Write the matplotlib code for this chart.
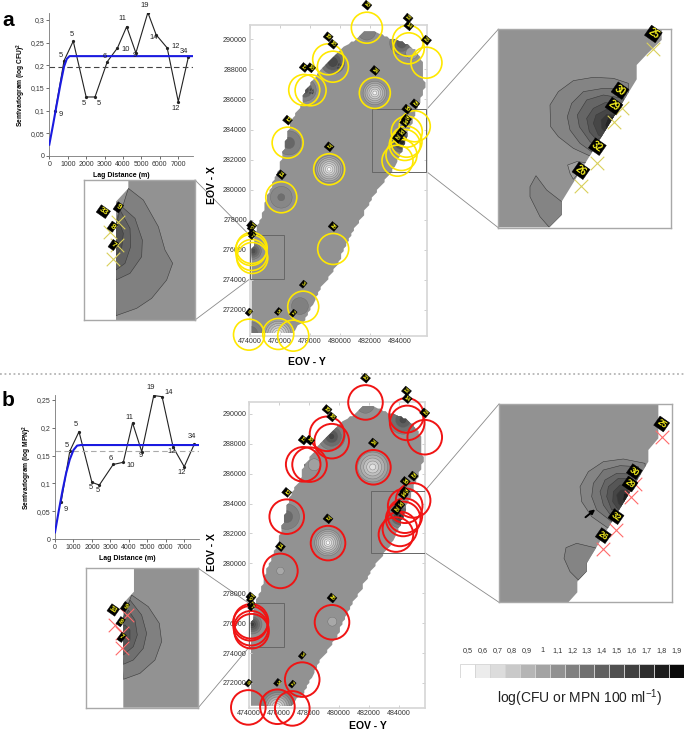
import numpy as np
import matplotlib
matplotlib.use("Agg")
import matplotlib.pyplot as plt
from matplotlib.patches import Polygon, Circle, Rectangle

plt.rcParams['font.family'] = ['Liberation Sans', 'DejaVu Sans']
plt.rcParams['mathtext.default'] = 'regular'

W, H = 685, 730

# semivariograms
lags_a = [330, 800, 1300, 2000, 2480, 3150, 3700, 4200, 4700, 5350, 5800, 6400, 7000, 7550]
gamma_a = [0.1, 0.21, 0.253, 0.13, 0.13, 0.208, 0.238, 0.285, 0.227, 0.316, 0.267, 0.238, 0.12, 0.218]
pairs_a = [9, 5, 5, 5, 5, 6, 10, 11, 9, 19, 14, 12, 12, 34]
model_x_a = [0, 200, 400, 600, 800, 950, 1100, 7800]
model_y_a = [0.025, 0.068, 0.113, 0.157, 0.197, 0.214, 0.22, 0.22]
var_a = 0.195

lags_b = [330, 800, 1300, 2000, 2400, 3150, 3700, 4200, 4700, 5350, 5800, 6400, 7000, 7550]
gamma_b = [0.066, 0.158, 0.193, 0.102, 0.097, 0.134, 0.138, 0.209, 0.157, 0.258, 0.256, 0.165, 0.13, 0.171]
pairs_b = pairs_a
model_x_b = [0, 200, 400, 600, 800, 1000, 1200, 1400, 7800]
model_y_b = [0.012, 0.05, 0.086, 0.118, 0.143, 0.16, 0.168, 0.169, 0.169]
var_b = 0.158

off_a = [(4, -3), (-2, 4), (-1, 5), (-2, -5), (3, -5), (-2, 4), (6, -1), (-3, 6), (-1, -2), (-2, 5), (-2, -2), (6, 1), (-2, -5), (-3, 4)]
off_b = [(3, -5), (-2, 4), (-2, 5), (-1, -4), (-1, -4), (-2, 4), (5, -2), (-2, 4), (-1, -3), (-2, 6), (5, 3), (-1, -3), (-2, -4), (-2, 5)]

# map outline, EOV coordinates
outline_y = [474200, 476875, 477670, 478670, 479860, 480790, 482520, 483780, 484310, 484780, 485640, 485510,
             484970, 484110, 482780, 482320, 481650, 481120, 480130, 479000, 477670, 477470, 476540, 476140,
             475350, 474880, 474350, 474200]
outline_x = [270490, 270490, 271330, 273330, 275120, 277120, 279980, 281780, 283110, 284440, 286830, 288420,
             289290, 289820, 290290, 290550, 290550, 290090, 289290, 288290, 286630, 285770, 283970, 281980,
             279980, 278520, 277120, 276000]

# sampling sites
site_y = [481790, 484530, 484578, 485753, 479219, 479531, 477625, 478050, 482320, 484976, 484445, 484425, 484312,
          484093, 483827, 476523, 479285, 476100, 479551, 474133, 474086, 474133, 474172, 477559, 473954, 475900, 476895]
site_x = [290770, 289907, 289400, 288444, 288670, 288178, 286630, 286610, 286430, 284215, 283856, 283190, 282972,
          282307, 281928, 283125, 281356, 279495, 276057, 276123, 275990, 275658, 275459, 272221, 270360, 270405, 270293]
site_id = ['20', '22', '14', '23', '19', '18', '17', '16', '24', '25', '30', '29', '31', '32', '26', '12', '27', '21',
           '28', '33', '9', '8', '7', '3', '6', '5', '2']

# contour rings: centre y, centre x, radii (m), greys
rings_a = [
    (482320, 286430, [780, 650, 520, 390, 260, 130], ['#a2a2a2', '#b0b0b0', '#bebebe', '#cdcdcd', '#dcdcdc', '#f2f2f2']),
    (479285, 281356, [900, 770, 640, 510, 380, 250, 120], ['#a0a0a0', '#acacac', '#b8b8b8', '#c6c6c6', '#d4d4d4', '#e4e4e4', '#fbfbfb']),
    (475900, 270405, [1000, 850, 700, 550, 400, 250], ['#a0a0a0', '#adadad', '#bababa', '#c8c8c8', '#d8d8d8', '#ececec']),
    (476100, 279495, [720, 235], ['#878787', '#6e6e6e']),
    (477340, 272260, [560], ['#808080']),
    (474000, 270380, [850, 550], ['#808080', '#707070']),
    (476610, 283110, [800, 380], ['#808080', '#666666']),
    (474220, 275920, [550, 420, 300, 180], ['#808080', '#6e6e6e', '#5e5e5e', '#4e4e4e']),
    (484110, 289750, [800, 550, 350], ['#808080', '#6e6e6e', '#5a5a5a']),
    (484780, 289080, [400], ['#a0a0a0']),
    (479530, 288490, [800, 550, 350], ['#707070', '#5c5c5c', '#484848']),
    (477670, 286630, [750, 480, 260], ['#808080', '#666666', '#505050']),
    (484110, 283170, [700, 500, 330, 170], ['#707070', '#555555', '#3c3c3c', '#222222']),
    (481790, 290550, [600], ['#808080']),
]
rings_b = [
    (482270, 286450, [1000, 800, 600, 400, 200], ['#a2a2a2', '#b0b0b0', '#c0c0c0', '#d0d0d0', '#e2e2e2']),
    (479275, 281385, [880, 760, 640, 510, 380, 250, 120], ['#a0a0a0', '#acacac', '#b8b8b8', '#c6c6c6', '#d4d4d4', '#e4e4e4', '#fbfbfb']),
    (475900, 270405, [1100, 950, 800, 650, 500, 350, 200], ['#808080', '#909090', '#a0a0a0', '#b2b2b2', '#c4c4c4', '#d8d8d8', '#ececec']),
    (476100, 279495, [250], ['#a8a8a8']),
    (479570, 276100, [300], ['#a8a8a8']),
    (476523, 283125, [850, 400], ['#808080', '#6a6a6a']),
    (474220, 275920, [650, 500, 380, 260, 140], ['#808080', '#6e6e6e', '#5e5e5e', '#4e4e4e', '#3e3e3e']),
    (484300, 289600, [950, 750, 500, 250], ['#808080', '#707070', '#5e5e5e', '#4a4a4a']),
    (479530, 288490, [900, 650, 420, 200], ['#808080', '#6c6c6c', '#585858', '#444444']),
    (478360, 286600, [400], ['#a0a0a0']),
    (477600, 286600, [150], ['#555555']),
    (484110, 283170, [800, 600, 420, 250, 110], ['#808080', '#666666', '#4e4e4e', '#383838', '#1e1e1e']),
    (481790, 290650, [600], ['#808080']),
]

# right insets, traced
right_a_map = [(25, 28), (515, 28), (515, 60), (473, 100), (440, 135), (440, 178), (215, 545), (215, 585), (178, 622), (25, 622)]
right_a_bands = [
    [(415, 190), (370, 175), (310, 172), (250, 182), (205, 215), (180, 255), (182, 320), (205, 350), (250, 385), (300, 408), (420, 300)],
    [(405, 205), (340, 205), (280, 215), (245, 250), (232, 290), (240, 330), (270, 370), (305, 395), (420, 300)],
    [(400, 235), (340, 225), (290, 240), (262, 285), (268, 320), (300, 365), (320, 380), (420, 300)],
    [(395, 250), (345, 248), (310, 265), (290, 295), (298, 335), (320, 360), (420, 300)],
    [(385, 265), (350, 268), (318, 285), (310, 310), (325, 345), (335, 350), (420, 300)],
    [(375, 285), (350, 283), (333, 300), (335, 325), (345, 335), (420, 300)],
    [(365, 290), (355, 290), (345, 315), (350, 330), (420, 300)],
    [(233, 435), (260, 425), (292, 428), (250, 478), (240, 460)],
    [(138, 467), (120, 500), (120, 530), (150, 590), (178, 622), (215, 585), (215, 545), (170, 510)],
]
right_a_grey = ['#848484', '#767676', '#666666', '#565656', '#464646', '#363636', '#242424', '#a0a0a0', '#848484']
right_a_x = [(490, 87), (395, 265), (373, 307), (320, 428), (273, 498)]
right_a_lab = [('25', 490, 42), ('30', 390, 212), ('29', 372, 258), ('32', 322, 380), ('26', 273, 452)]

right_b_map = [(27, 27), (505, 27), (505, 130), (475, 165), (475, 200), (290, 505), (290, 530), (262, 560), (262, 592), (235, 622), (27, 622)]
right_b_bands = [
    [(465, 205), (400, 192), (340, 200), (295, 230), (270, 275), (275, 320), (305, 365), (355, 400), (470, 300)],
    [(445, 215), (390, 212), (340, 225), (310, 265), (305, 305), (320, 345), (365, 380), (470, 300)],
    [(435, 238), (380, 235), (345, 255), (330, 290), (340, 330), (365, 365), (470, 300)],
    [(425, 250), (385, 250), (355, 275), (350, 305), (365, 345), (470, 300)],
    [(415, 270), (390, 270), (370, 290), (368, 320), (385, 345), (470, 300)],
    [(408, 285), (392, 285), (380, 300), (385, 325), (395, 335), (470, 300)],
    [(402, 295), (398, 315), (408, 325), (470, 300)],
    [(330, 462), (260, 445), (228, 458), (222, 490), (240, 530), (265, 555), (290, 530), (290, 505)],
]
right_b_grey = ['#848484', '#767676', '#666666', '#565656', '#464646', '#363636', '#1e1e1e', '#848484']
right_b_x = [(517, 127), (435, 268), (423, 305), (378, 405), (340, 463)]
right_b_lab = [('25', 515, 87), ('30', 433, 230), ('29', 420, 267), ('32', 378, 365), ('26', 340, 422)]

# left insets, traced
left_a_map = [(345, 30), (145, 30), (145, 55), (108, 95), (108, 450), (345, 450)]
left_a_bands = [
    [(145, 55), (190, 90), (235, 170), (255, 240), (278, 280), (260, 330), (215, 385), (170, 415), (108, 437), (100, 200)],
    [(120, 105), (165, 145), (187, 210), (185, 260), (150, 310), (108, 330), (100, 200)],
    [(120, 120), (150, 175), (152, 230), (135, 280), (108, 300), (100, 200)],
    [(115, 150), (130, 190), (125, 235), (108, 255), (100, 200)],
]
left_a_grey = ['#808080', '#707070', '#626262', '#525252']
left_a_x = [(115, 155), (90, 185), (112, 225), (100, 267)]
left_a_lab = [('33', 70, 125), ('9', 115, 112), ('8', 97, 170), ('7', 100, 225)]

left_b_map = [(355, 25), (162, 25), (162, 95), (130, 130), (130, 443), (355, 443)]
left_b_bands = [
    [(155, 105), (205, 140), (238, 190), (245, 245), (225, 300), (180, 340), (130, 358), (120, 200)],
    [(150, 120), (185, 165), (200, 220), (190, 265), (160, 300), (130, 313), (120, 200)],
    [(145, 150), (165, 180), (172, 225), (160, 260), (130, 285), (120, 200)],
    [(135, 195), (150, 210), (150, 240), (130, 260), (120, 200)],
]
left_b_grey = ['#808080', '#707070', '#626262', '#525252']
left_b_x = [(140, 165), (105, 195), (125, 218), (125, 265)]
left_b_lab = [('33', 100, 150), ('9', 135, 140), ('8', 122, 185), ('7', 125, 232)]

# colour scale
scale_labels = ['0,5', '0,6', '0,7', '0,8', '0,9', '1', '1,1', '1,2', '1,3', '1,4', '1,5', '1,6', '1,7', '1,8', '1,9']
scale_grey = ['#ffffff', '#ececec', '#dcdcdc', '#c9c9c9', '#b5b5b5', '#a3a3a3', '#919191', '#808080', '#707070',
              '#606060', '#505050', '#404040', '#2e2e2e', '#1c1c1c', '#0a0a0a']

BASE = '#929292'


def px_axes(fig, x0, y0, x1, y1, **kw):
    return fig.add_axes([x0 / W, 1 - y1 / H, (x1 - x0) / W, (y1 - y0) / H], **kw)


def jagged(xs, ys, step=170):
    # raster look of the kriged grid
    out_x, out_y = [], []
    n = len(xs)
    for i in range(n):
        x0, y0, x1, y1 = xs[i], ys[i], xs[(i + 1) % n], ys[(i + 1) % n]
        k = max(int(max(abs(x1 - x0), abs(y1 - y0)) / step), 1)
        for t in range(k):
            out_x.append(round((x0 + (x1 - x0) * t / k) / step) * step)
            out_y.append(round((y0 + (y1 - y0) * t / k) / step) * step)
    return np.column_stack([out_x, out_y])


def variogram(fig, box, lags, gamma, pairs, offs, mx, my, var, ymax, yticks, ylabels, ylabel, xlab_y, dash):
    ax = px_axes(fig, *box)
    ax.patch.set_alpha(0)
    ax.plot(lags, gamma, color='#222222', lw=0.8, marker='o', ms=1.3)
    ax.plot(mx, my, color='#1a1ae0', lw=1.5, zorder=3)
    ax.axhline(var, color=dash, lw=0.8, dashes=(5, 3))
    for x, y, n, o in zip(lags, gamma, pairs, offs):
        ax.annotate(str(n), (x, y), xytext=o, textcoords='offset points', fontsize=5.4, ha='center', va='center', color='#222222')
    ax.set_xlim(0, 7800)
    ax.set_ylim(0, ymax)
    ax.set_xticks(range(0, 8000, 1000))
    ax.set_yticks(yticks)
    ax.set_yticklabels(ylabels)
    ax.tick_params(labelsize=5, length=2, width=0.5, pad=1.5, colors='#333333')
    for s in ['top', 'right']:
        ax.spines[s].set_visible(False)
    for s in ['left', 'bottom']:
        ax.spines[s].set_linewidth(0.6)
        ax.spines[s].set_color('#777777')
    ax.set_xlabel('Lag Distance (m)', fontsize=5, fontweight='bold', labelpad=xlab_y)
    ax.set_ylabel(ylabel, fontsize=4.8, fontweight='bold', labelpad=2)
    return ax


def site_map(fig, box, ylim, rings, radius, colour, lw, rects):
    ax = px_axes(fig, *box)
    ax.set_xlim(474000, 485770)
    ax.set_ylim(*ylim)
    poly = Polygon(jagged(outline_y, outline_x), closed=True, fc=BASE, ec='none', zorder=1)
    ax.add_patch(poly)
    for cy, cx, radii, greys in rings:
        for r, g in zip(radii, greys):
            c = Circle((cy, cx), r, fc=g, ec='#666666', lw=0.25, zorder=2)
            ax.add_patch(c)
            c.set_clip_path(poly)
    ax.set_xticks(range(474000, 486000, 2000))
    ax.set_yticks(range(272000, 292000, 2000))
    ax.tick_params(labelsize=5.1, length=2.5, width=0.7, pad=2, color='#cfcfcf', labelcolor='#333333',
                   top=True, right=True, direction='in')
    for s in ax.spines.values():
        s.set_color('#d6d6d6')
        s.set_linewidth(1.2)
    for x0, x1, y0, y1 in rects:
        ax.add_patch(Rectangle((x0, y0), x1 - x0, y1 - y0, fc='none', ec='#666666', lw=0.7, zorder=3))
    ax.scatter(site_y, site_x, s=(2 * radius * 0.72) ** 2, fc='none', ec=colour, lw=lw, zorder=4, clip_on=False)
    for y, x, t in zip(site_y, site_x, site_id):
        ax.annotate(t, (y, x), xytext=(0, (radius + 7) * 0.72), textcoords='offset points', fontsize=3.9,
                    fontweight='bold', color='#f4ee20', ha='center', va='center', rotation=-40, zorder=5,
                    annotation_clip=False, bbox=dict(boxstyle='square,pad=0.15', fc='black', ec='black', lw=0.3))
    return ax


def inset(fig, box, xlim, ylim, outline, bands, greys, marks, labels, mark_col, lab_size):
    ax = px_axes(fig, *box)
    ax.set_xlim(*xlim)
    ax.set_ylim(*ylim)
    ax.set_xticks([])
    ax.set_yticks([])
    for s in ax.spines.values():
        s.set_color('#a8a8a8')
        s.set_linewidth(1)
    poly = Polygon(outline, closed=True, fc=BASE, ec='none', zorder=1)
    ax.add_patch(poly)
    for b, g in zip(bands, greys):
        p = Polygon(b, closed=True, fc=g, ec='#3a3a3a', lw=0.4, zorder=2)
        ax.add_patch(p)
        p.set_clip_path(poly)
    mx, my = zip(*marks)
    ax.scatter(mx, my, marker='x', s=95, c=mark_col, lw=0.8, zorder=3, clip_on=False)
    for t, x, y in labels:
        ax.text(x, y, t, fontsize=lab_size, fontweight='bold', color='#f4ee20', ha='center', va='center', rotation=-35,
                zorder=4, bbox=dict(boxstyle='square,pad=0.12', fc='black', ec='black', lw=0.3))
    return ax


fig = plt.figure(figsize=(W / 100, H / 100), dpi=100)

# overlay in pixels: connectors, separator, panel letters
bg = fig.add_axes([0, 0, 1, 1], zorder=-1)
bg.set_xlim(0, W)
bg.set_ylim(H, 0)
bg.axis('off')
bg.plot([0, W], [374, 374], color='#b5b5b5', lw=1.3, ls=(0, (1, 1.5)))
connectors = [
    ((426.7, 109.3), (498.3, 29.3)), ((426.7, 171.7), (498.3, 227.7)),
    ((195, 180), (249.7, 235.3)), ((195, 320), (249.7, 279)),
    ((425, 490.7), (499, 404)), ((425, 552.7), (499, 602.3)),
    ((198.3, 568.3), (249, 603.3)), ((198.3, 707.7), (249, 647.3)),
]
for (x0, y0), (x1, y1) in connectors:
    bg.plot([x0, x1], [y0, y1], color='#8a8a8a', lw=0.6)
bg.text(2, 20, 'a', fontsize=15, fontweight='bold', va='center')
bg.text(2, 401, 'b', fontsize=15, fontweight='bold', va='center')
bg.text(307, 362, 'EOV - Y', fontsize=7.5, fontweight='bold', ha='center', va='center')
bg.text(368, 726, 'EOV - Y', fontsize=7.5, fontweight='bold', ha='center', va='center')
bg.text(212, 185, 'EOV - X', fontsize=7.5, fontweight='bold', ha='center', va='center', rotation=90)
bg.text(212, 552, 'EOV - X', fontsize=7.5, fontweight='bold', ha='center', va='center', rotation=90)

variogram(fig, (49.3, 13, 193, 156), lags_a, gamma_a, pairs_a, off_a, model_x_a, model_y_a, var_a, 0.315,
          [0, 0.05, 0.1, 0.15, 0.2, 0.25, 0.3], ['0', '0,05', '0,1', '0,15', '0,2', '0,25', '0,3'],
          'Semivariogram (log CFU)$^2$', 3, '#444444')
variogram(fig, (55, 395, 199, 539), lags_b, gamma_b, pairs_b, off_b, model_x_b, model_y_b, var_b, 0.259,
          [0, 0.05, 0.1, 0.15, 0.2, 0.25], ['0', '0,05', '0,1', '0,15', '0,2', '0,25'],
          'Semivariogram (log MPN)$^2$', 3, '#aaaaaa')

ax_a = site_map(fig, (249.7, 25, 426.7, 335.7), (270290, 290950), rings_a, 15.5, '#ffe800', 1.2,
                [(482140, 485750, 281195, 285345), (474000, 476300, 274060, 276966)])
ax_a.text(479780, 288100, '1,2', fontsize=3.5, rotation=80, zorder=3, color='#222222')
ax_a.text(477950, 286400, '1,2', fontsize=3.5, rotation=80, zorder=3, color='#222222')
site_map(fig, (249, 402, 425, 707.7), (270340, 290800), rings_b, 17.3, '#f01414', 1.4,
         [(482160, 485770, 280720, 284870), (474000, 476310, 274385, 277330)])

inset(fig, (498.3, 29.3, 670.7, 227.7), (25, 542), (623, 28), right_a_map, right_a_bands, right_a_grey,
      right_a_x, right_a_lab, '#d9cf5a', 7)
ax = inset(fig, (499, 404, 671.7, 602.3), (27, 545), (622, 27), right_b_map, right_b_bands, right_b_grey,
           right_b_x, right_b_lab, '#ff6a6a', 6.3)
ax.annotate('', xy=(322, 338), xytext=(280, 372), zorder=5,
            arrowprops=dict(arrowstyle='-|>', color='black', lw=1.4, mutation_scale=6))
inset(fig, (84, 180, 195, 320), (12, 345), (450, 30), left_a_map, left_a_bands, left_a_grey,
      left_a_x, left_a_lab, '#d9cf5a', 6)
inset(fig, (86.3, 568.3, 198.3, 707.7), (19, 355), (443, 25), left_b_map, left_b_bands, left_b_grey,
      left_b_x, left_b_lab, '#ff6a6a', 5)

# colour scale
cb = px_axes(fig, 460, 664, 684, 678.3)
for i, g in enumerate(scale_grey):
    cb.bar(i, 1, width=1, color=g, edgecolor='#d4d4d4', lw=0.6)
cb.set_xlim(-0.5, 14.5)
cb.set_ylim(0, 1)
cb.set_yticks([])
cb.set_xticks(range(15))
cb.set_xticklabels(scale_labels)
cb.xaxis.tick_top()
cb.tick_params(length=0, pad=7, labelsize=5.2, colors='#333333')
for s in cb.spines.values():
    s.set_visible(False)
bg.text(580, 698, 'log(CFU or MPN 100 ml$^{-1}$)', fontsize=10, ha='center', va='center', color='#222222')

fig.savefig('out.png', dpi=100)
